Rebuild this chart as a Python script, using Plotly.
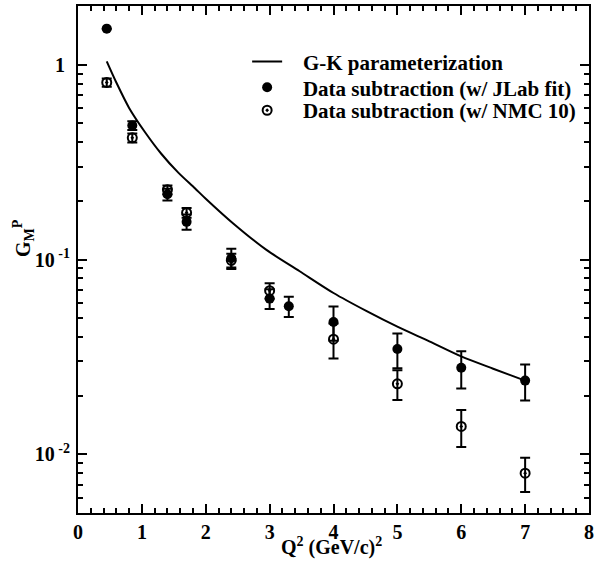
import plotly.graph_objects as go

# G-K parameterization curve
gk_q2 = [0.45, 0.6, 0.8, 1.05, 1.3, 1.57, 1.83, 2.0, 2.43, 2.95, 3.47, 4.0, 4.52, 5.0, 5.5, 6.0, 6.5, 7.0]
gk_gm = [1.04, 0.81, 0.60, 0.45, 0.35, 0.279, 0.232, 0.205, 0.153, 0.112, 0.087, 0.0673, 0.0543, 0.0452, 0.038, 0.0318, 0.0275, 0.0239]

# Data subtraction (w/ JLab fit)
jl_q2 = [0.45, 0.85, 1.4, 1.7, 2.4, 3.0, 3.3, 4.0, 5.0, 6.0, 7.0]
jl_gm = [1.53, 0.487, 0.216, 0.156, 0.1015, 0.063, 0.0575, 0.0478, 0.0347, 0.0278, 0.0239]
jl_err = [0.0, 0.025, 0.015, 0.014, 0.012, 0.0073, 0.0068, 0.0095, 0.007, 0.006, 0.005]

# Data subtraction (w/ NMC 10)
nm_q2 = [0.45, 0.85, 1.4, 1.7, 2.4, 3.0, 4.0, 5.0, 6.0, 7.0]
nm_gm = [0.81, 0.421, 0.228, 0.174, 0.099, 0.0692, 0.039, 0.023, 0.0139, 0.008]
nm_err = [0.04, 0.022, 0.012, 0.01, 0.008, 0.0064, 0.008, 0.004, 0.003, 0.0016]

y_tickvals = [0.01, 0.1, 1]
y_ticktext = ["10<sup> -2</sup>", "10<sup> -1</sup>", "1\u00a0"]

FONT = "Liberation Serif, Times New Roman, serif"
PAD = "\u00a0\u00a0\u00a0"

fig = go.Figure()
fig.add_trace(go.Scatter(
    x=gk_q2, y=gk_gm, mode="lines", name=PAD + "G-K parameterization", legend="legend",
    line=dict(color="black", width=2, shape="spline", smoothing=0.8)))
fig.add_trace(go.Scatter(
    x=jl_q2, y=jl_gm, mode="markers", name=PAD + "Data subtraction (w/ JLab fit)", legend="legend2",
    marker=dict(symbol="circle", size=10, color="black"),
    error_y=dict(type="data", array=jl_err, color="black", thickness=2, width=5)))
fig.add_trace(go.Scatter(
    x=nm_q2, y=nm_gm, mode="markers", name=PAD + "Data subtraction (w/ NMC 10)", legend="legend3",
    marker=dict(symbol="circle-open-dot", size=9, color="black", line=dict(width=2, color="black")),
    error_y=dict(type="data", array=nm_err, color="black", thickness=2, width=5)))

leg_common = dict(x=0.331, xanchor="left", yanchor="middle", bgcolor="rgba(0,0,0,0)",
                  font=dict(family=FONT, size=21, weight="bold"), itemwidth=30)

fig.update_layout(
    width=609, height=570,
    margin=dict(l=78, r=20, t=4, b=57),
    paper_bgcolor="white", plot_bgcolor="white",
    font=dict(family=FONT, color="black", size=20, weight="bold"),
    showlegend=True,
    legend=dict(y=(513 - 60) / 509, **leg_common),
    legend2=dict(y=(513 - 86) / 509, **leg_common),
    legend3=dict(y=(513 - 109) / 509, **leg_common),
    xaxis=dict(range=[0, 8], dtick=1, tick0=0,
               ticks="inside", ticklen=9, tickwidth=2, tickcolor="black",
               showline=True, linewidth=2, linecolor="black", mirror="ticks",
               showgrid=False, zeroline=False,
               tickfont=dict(family=FONT, size=20, weight="bold"),
               minor=dict(dtick=0.2, ticks="inside", ticklen=5,
                          tickwidth=2, tickcolor="black", showgrid=False)),
    yaxis=dict(type="log", range=[-2.301, 0.301],
               tickvals=y_tickvals, ticktext=y_ticktext,
               ticks="inside", ticklen=9, tickwidth=2, tickcolor="black",
               showline=True, linewidth=2, linecolor="black", mirror="ticks",
               showgrid=False, zeroline=False, ticklabelstandoff=2,
               tickfont=dict(family=FONT, size=20, weight="bold"),
               minor=dict(ticks="inside", ticklen=5, tickwidth=2, tickcolor="black", dtick="D1", showgrid=False)),
)

fig.add_annotation(
    text="Q<sup>2</sup> (GeV/c)<sup>2</sup>", xref="paper", yref="paper",
    x=0.497, y=-0.066, xanchor="center", yanchor="middle", showarrow=False,
    font=dict(family=FONT, size=20, weight="bold"))
fig.add_annotation(
    text="G<sub>M</sub><sup>P</sup>", xref="paper", yref="paper",
    x=-0.106, y=0.542, xanchor="center", yanchor="middle", showarrow=False,
    textangle=-90, font=dict(family=FONT, size=20, weight="bold"))

fig.write_html("out.html", config={"displayModeBar": False},
               post_script="document.body.style.margin='0px';")
